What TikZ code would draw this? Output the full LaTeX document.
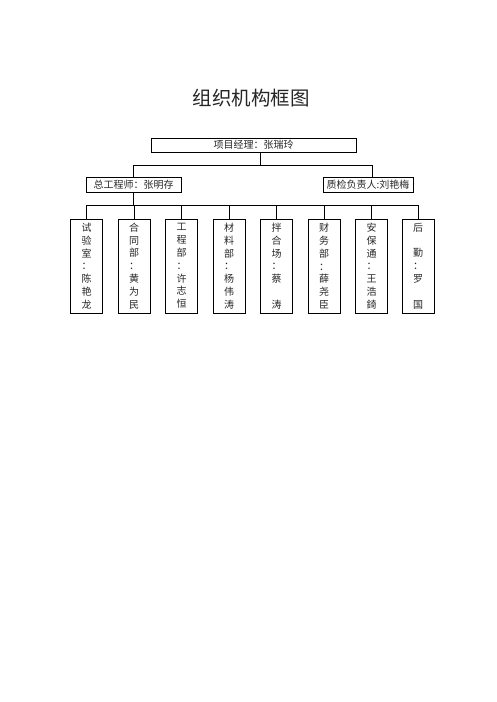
\documentclass[tikz,border=0pt]{standalone}
\usepackage{fontspec}
\newfontfamily\cjk{Noto Sans CJK SC}
\begin{document}
\begin{tikzpicture}[x=1pt,y=-1pt,
  hbox/.style={draw=black,line width=0.9pt,inner sep=0pt,font=\cjk\fontsize{10}{12}\selectfont,text=black!85},
  vbox/.style={draw=black,line width=0.9pt,inner sep=0pt,minimum width=32pt,minimum height=94pt,font=\cjk\fontsize{10}{12.8}\selectfont,text=black!85,align=center},
  conn/.style={draw=black,line width=0.9pt}]
\useasboundingbox (0,0) rectangle (496,702);
\node[font=\cjk\fontsize{19.5}{22}\selectfont,text=black!85] (title) at (251,98) {组织机构框图};
\node[hbox,minimum width=205pt,minimum height=14pt] (pm) at (253.5,145) {项目经理：张瑞玲};
\node[hbox,minimum width=95pt,minimum height=15pt] (ce) at (133.5,184.5) {总工程师：张明存};
\node[hbox,minimum width=90pt,minimum height=15pt] (qc) at (368,184.5) {质检负责人:刘艳梅};
\coordinate (j1) at (260,165);
\coordinate (jl) at (133.5,165);
\coordinate (jr) at (372,165);
\draw[conn] (pm.south -| j1) -- (j1);
\draw[conn] (jl) -- (jr);
\draw[conn] (jl) -- (ce.north);
\draw[conn] (jr) -- (jr |- qc.north);
\foreach \i/\x/\t in {
  1/86.7/试\\验\\室\\：\\陈\\艳\\龙,
  2/134/合\\同\\部\\：\\黄\\为\\民,
  3/181.5/工\\程\\部\\：\\许\\志\\恒,
  4/229/材\\料\\部\\：\\杨\\伟\\涛,
  5/276.7/拌\\合\\场\\：\\蔡\\\strut\\涛,
  6/324/财\\务\\部\\：\\薛\\尧\\臣,
  7/371.5/安\\保\\通\\：\\王\\浩\\錡,
  8/418/后\\\strut\\勤\\：\\罗\\\strut\\国}
  {\node[vbox] (b\i) at (\x,266) {\t};}
\coordinate (bl) at (86.7,205);
\coordinate (br) at (418,205);
\draw[conn] (ce.south) -- (ce.south |- bl);
\draw[conn] (bl) -- (br);
\foreach \i in {1,...,8}{\draw[conn] (b\i.north |- bl) -- (b\i.north);}
\end{tikzpicture}
\end{document}
